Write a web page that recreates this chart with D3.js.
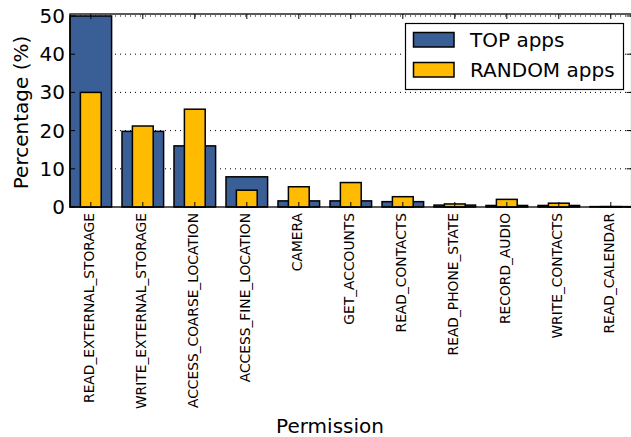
<!DOCTYPE html>
<html>
<head>
<meta charset="utf-8">
<script src="https://cdn.jsdelivr.net/npm/d3@7"></script>
<style>
  html, body { margin: 0; padding: 0; background: #fff; }
  svg { display: block; font-family: "DejaVu Sans", sans-serif; }
</style>
</head>
<body>
<svg id="chart" width="631" height="437"></svg>
<script>
// Share of apps requesting each Android permission
const categories = [
  "READ_EXTERNAL_STORAGE", "WRITE_EXTERNAL_STORAGE", "ACCESS_COARSE_LOCATION",
  "ACCESS_FINE_LOCATION", "CAMERA", "GET_ACCOUNTS", "READ_CONTACTS",
  "READ_PHONE_STATE", "RECORD_AUDIO", "WRITE_CONTACTS", "READ_CALENDAR"
];
const topApps    = [50.0, 19.8, 16.0, 7.9, 1.6, 1.6, 1.4, 0.5, 0.4, 0.4, 0.1];
const randomApps = [30.0, 21.2, 25.6, 4.4, 5.3, 6.4, 2.7, 0.8, 2.0, 1.0, 0.1];
const seriesNames = ["TOP apps", "RANDOM apps"];
const yTicks = [0, 10, 20, 30, 40, 50];

const colors = { top: "#3a5e96", random: "#ffbb00" };

const svg = d3.select("#chart");
const plot = { left: 70, right: 631.6, top: 14, bottom: 207 };

// numeric x axis: category i sits at x = i
const x = d3.scaleLinear().domain([-0.4, categories.length - 0.6]).range([plot.left, plot.right]);
const y = d3.scaleLinear().domain([0, 50.52]).range([plot.bottom, plot.top]);

const wideW = 0.8, narrowW = 0.4;

// dotted horizontal grid
svg.append("g").selectAll("line")
  .data(yTicks.filter(d => d > 0))
  .join("line")
  .attr("x1", plot.left).attr("x2", plot.right)
  .attr("y1", d => y(d)).attr("y2", d => y(d))
  .attr("stroke", "#000").attr("stroke-width", 1)
  .attr("stroke-dasharray", "1,4");

// wide bars: TOP apps
svg.append("g").selectAll("rect")
  .data(topApps)
  .join("rect")
  .attr("x", (d, i) => x(i - wideW / 2))
  .attr("width", (d, i) => x(i + wideW / 2) - x(i - wideW / 2))
  .attr("y", d => y(d))
  .attr("height", d => y(0) - y(d))
  .attr("fill", colors.top)
  .attr("stroke", "#000").attr("stroke-width", 1.5);

// narrow bars: RANDOM apps, centred on top of the wide ones
svg.append("g").selectAll("rect")
  .data(randomApps)
  .join("rect")
  .attr("x", (d, i) => x(i - narrowW / 2))
  .attr("width", (d, i) => x(i + narrowW / 2) - x(i - narrowW / 2))
  .attr("y", d => y(d))
  .attr("height", d => y(0) - y(d))
  .attr("fill", colors.random)
  .attr("stroke", "#000").attr("stroke-width", 1.5);

// frame
svg.append("rect")
  .attr("x", plot.left).attr("y", plot.top)
  .attr("width", plot.right - plot.left).attr("height", plot.bottom - plot.top)
  .attr("fill", "none").attr("stroke", "#000").attr("stroke-width", 1.3);

const tickLen = 5;
const idx = d3.range(categories.length);

// inward ticks on all four sides
const ticks = svg.append("g").attr("stroke", "#000").attr("stroke-width", 1);
ticks.selectAll(".xb").data(idx).join("line")
  .attr("x1", i => x(i)).attr("x2", i => x(i))
  .attr("y1", plot.bottom).attr("y2", plot.bottom - tickLen);
ticks.selectAll(".xt").data(idx).join("line")
  .attr("x1", i => x(i)).attr("x2", i => x(i))
  .attr("y1", plot.top).attr("y2", plot.top + tickLen);
ticks.selectAll(".yl").data(yTicks).join("line")
  .attr("x1", plot.left).attr("x2", plot.left + tickLen)
  .attr("y1", d => y(d)).attr("y2", d => y(d));
ticks.selectAll(".yr").data(yTicks).join("line")
  .attr("x1", plot.right).attr("x2", plot.right - tickLen)
  .attr("y1", d => y(d)).attr("y2", d => y(d));

// y tick labels
svg.append("g").selectAll("text")
  .data(yTicks)
  .join("text")
  .attr("x", plot.left - 5)
  .attr("y", d => y(d))
  .attr("text-anchor", "end")
  .attr("dominant-baseline", "central")
  .attr("font-size", 20)
  .text(d => d);

// x tick labels, vertical
svg.append("g").selectAll("text")
  .data(categories)
  .join("text")
  .attr("transform", (d, i) => `translate(${x(i) - 1.5},${plot.bottom + 6}) rotate(-90)`)
  .attr("text-anchor", "end")
  .attr("dominant-baseline", "central")
  .attr("font-size", 13.8)
  .text(d => d);

// axis titles
svg.append("text")
  .attr("transform", `translate(21,${(plot.top + plot.bottom) / 2 + 2}) rotate(-90)`)
  .attr("text-anchor", "middle")
  .attr("dominant-baseline", "central")
  .attr("font-size", 20)
  .text("Percentage (%)");

svg.append("text")
  .attr("x", 330).attr("y", 433)
  .attr("text-anchor", "middle")
  .attr("font-size", 20)
  .text("Permission");

// legend
const legend = svg.append("g");
legend.append("rect")
  .attr("x", 405.5).attr("y", 23.5).attr("width", 218).attr("height", 66)
  .attr("fill", "#fff").attr("stroke", "#000").attr("stroke-width", 1.2);
const legendColors = [colors.top, colors.random];
const items = legend.selectAll("g.item")
  .data(seriesNames)
  .join("g")
  .attr("transform", (d, i) => `translate(0,${i * 30})`);
items.append("rect")
  .attr("x", 413.5).attr("y", 32.5).attr("width", 40.5).attr("height", 14.5)
  .attr("fill", (d, i) => legendColors[i])
  .attr("stroke", "#000").attr("stroke-width", 1.5);
items.append("text")
  .attr("x", 470).attr("y", 47)
  .attr("font-size", 20)
  .text(d => d);
</script>
</body>
</html>
